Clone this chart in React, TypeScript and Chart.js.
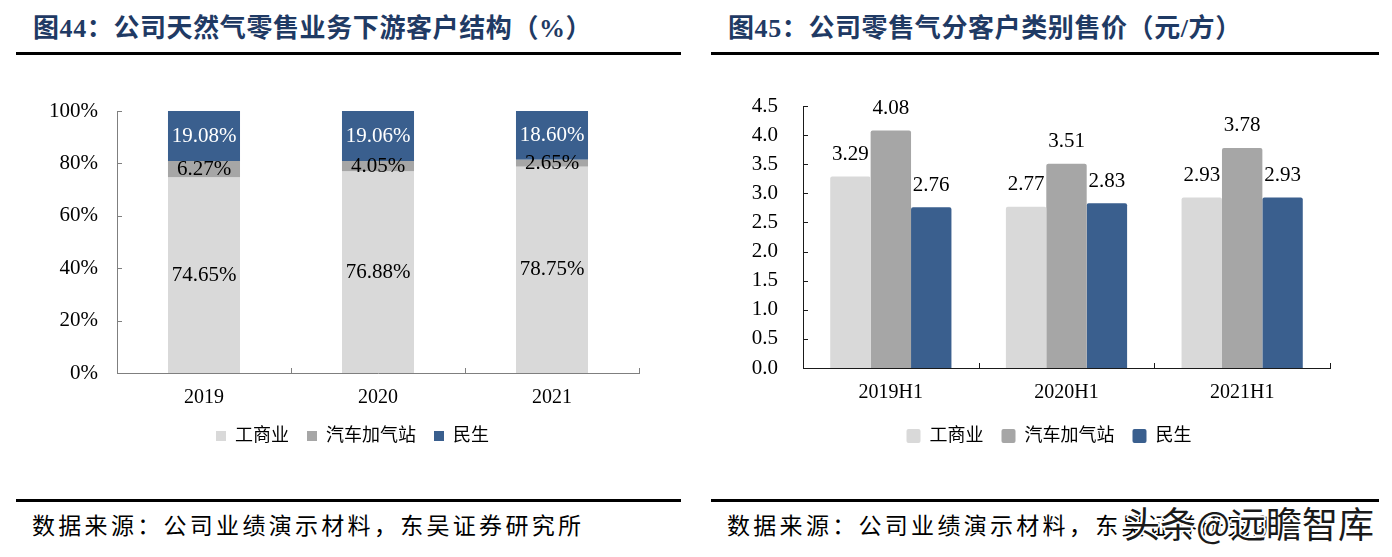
import React, { useEffect, useRef } from "react";
import { Chart, registerables } from "chart.js";

Chart.register(...registerables);

// ---------- data ----------
const yearCategories = ["2019", "2020", "2021"];
const commercialShare = [74.65, 76.88, 78.75];
const stationShare = [6.27, 4.05, 2.65];
const residentialShare = [19.08, 19.06, 18.6];

const halfCategories = ["2019H1", "2020H1", "2021H1"];
const commercialPrice = [3.29, 2.77, 2.93];
const stationPrice = [4.08, 3.51, 3.78];
const residentialPrice = [2.76, 2.83, 2.93];

const seriesNames = ["工商业", "汽车加气站", "民生"];
const titleLeft = "图44：公司天然气零售业务下游客户结构（%）";
const titleRight = "图45：公司零售气分客户类别售价（元/方）";
const sourceText = "数据来源：公司业绩演示材料，东吴证券研究所";

const C_LIGHT = "#d9d9d9";
const C_MID = "#a6a6a6";
const C_BLUE = "#3a5f8e";
const SERIF = '"Liberation Serif", "Noto Sans CJK SC", serif';
const CJK = '"Liberation Serif", "Noto Sans CJK SC", sans-serif';

// ---------- plugins ----------
const inwardTicks = {
  id: "inwardTicks",
  afterDraw(chart: any, _args: any, opts: any) {
    const ctx = chart.ctx;
    const x = chart.scales.x;
    const y = chart.scales.y;
    const area = chart.chartArea;
    ctx.save();
    ctx.strokeStyle = opts.color || "#000";
    ctx.lineWidth = 1;
    ctx.beginPath();
    y.ticks.forEach((_t: any, i: number) => {
      const py = Math.round(y.getPixelForTick(i)) + 0.5;
      ctx.moveTo(area.left, py);
      ctx.lineTo(area.left + 5, py);
    });
    const n = x.getLabels().length;
    for (let i = 1; i <= n; i++) {
      const px = Math.round(x.getPixelForValue(i - 0.5)) + 0.5;
      ctx.moveTo(px, area.bottom);
      ctx.lineTo(px, area.bottom - 5);
    }
    ctx.stroke();
    ctx.restore();
  },
};

const legendShift = {
  id: "legendShift",
  afterLayout(chart: any, _args: any, opts: any) {
    const l = chart.legend;
    if (!l || !opts.dx) return;
    l.left += opts.dx;
    l.right += opts.dx;
  },
};

const valueLabels = {
  id: "valueLabels",
  afterDatasetsDraw(chart: any, _args: any, opts: any) {
    const ctx = chart.ctx;
    ctx.save();
    ctx.font = `${opts.size || 21}px ${SERIF}`;
    ctx.textAlign = "center";
    ctx.textBaseline = "middle";
    chart.data.datasets.forEach((ds: any, di: number) => {
      const meta = chart.getDatasetMeta(di);
      meta.data.forEach((bar: any, i: number) => {
        const v = ds.data[i];
        ctx.fillStyle = opts.colors ? opts.colors[di] : "#000";
        if (opts.mode === "center") {
          ctx.fillText(v.toFixed(2) + "%", bar.x, (bar.y + bar.base) / 2);
        } else {
          ctx.fillText(v.toFixed(2), bar.x, bar.y - 22);
        }
      });
    });
    ctx.restore();
  },
};

// ---------- configs ----------
function leftConfig(): any {
  return {
    type: "bar",
    data: {
      labels: yearCategories,
      datasets: [
        { label: seriesNames[0], data: commercialShare, backgroundColor: C_LIGHT },
        { label: seriesNames[1], data: stationShare, backgroundColor: C_MID },
        { label: seriesNames[2], data: residentialShare, backgroundColor: C_BLUE },
      ],
    },
    plugins: [inwardTicks, valueLabels, legendShift],
    options: {
      animation: false,
      responsive: true,
      maintainAspectRatio: false,
      layout: { padding: { left: 0, right: 61, top: 31, bottom: 5 } },
      datasets: { bar: { categoryPercentage: 1, barPercentage: 0.414 } },
      scales: {
        x: {
          stacked: true,
          grid: { display: false },
          border: { display: true, color: "#7f7f7f", width: 1 },
          ticks: { color: "#000", font: { family: SERIF, size: 20 }, padding: 5 },
          afterFit: (s: any) => { s.height = 36; },
        },
        y: {
          stacked: true,
          min: 0,
          max: 100,
          grid: { display: false, drawTicks: true, tickLength: 19 },
          border: { display: true, color: "#7f7f7f", width: 1 },
          ticks: {
            stepSize: 20,
            autoSkip: false,
            color: "#000",
            font: { family: SERIF, size: 21 },
            padding: 0,
            callback: (v: any) => v + "%",
          },
          afterFit: (s: any) => { s.width = 117; },
        },
      },
      plugins: {
        tooltip: { enabled: false },
        inwardTicks: { color: "#7f7f7f" },
        legendShift: { dx: 33 },
        valueLabels: { mode: "center", colors: ["#000", "#000", "#fff"], size: 21 },
        legend: {
          position: "bottom",
          labels: {
            boxWidth: 10,
            boxHeight: 10,
            padding: 18,
            color: "#000",
            font: { family: CJK, size: 18 },
          },
        },
      },
    },
  };
}

function rightConfig(): any {
  return {
    type: "bar",
    data: {
      labels: halfCategories,
      datasets: [
        { label: seriesNames[0], data: commercialPrice, backgroundColor: C_LIGHT, borderRadius: 2, borderSkipped: "bottom" },
        { label: seriesNames[1], data: stationPrice, backgroundColor: C_MID, borderRadius: 2, borderSkipped: "bottom" },
        { label: seriesNames[2], data: residentialPrice, backgroundColor: C_BLUE, borderRadius: 2, borderSkipped: "bottom" },
      ],
    },
    plugins: [inwardTicks, valueLabels, legendShift],
    options: {
      animation: false,
      responsive: true,
      maintainAspectRatio: false,
      layout: { padding: { left: 0, right: 62, top: 26, bottom: 5 } },
      datasets: { bar: { categoryPercentage: 0.69, barPercentage: 1 } },
      scales: {
        x: {
          grid: { display: false },
          border: { display: true, color: "#1a1a1a", width: 1 },
          ticks: { color: "#000", font: { family: SERIF, size: 20 }, padding: 5 },
          afterFit: (s: any) => { s.height = 41; },
        },
        y: {
          min: 0,
          max: 4.5,
          grid: { display: false, drawTicks: true, tickLength: 25 },
          border: { display: true, color: "#1a1a1a", width: 1 },
          ticks: {
            stepSize: 0.5,
            autoSkip: false,
            color: "#000",
            font: { family: SERIF, size: 21 },
            padding: 0,
            callback: (v: any) => Number(v).toFixed(1),
          },
          afterFit: (s: any) => { s.width = 103; },
        },
      },
      plugins: {
        tooltip: { enabled: false },
        inwardTicks: { color: "#1a1a1a" },
        legendShift: { dx: 34 },
        valueLabels: { mode: "top", size: 21 },
        legend: {
          position: "bottom",
          labels: {
            boxWidth: 14,
            boxHeight: 14,
            useBorderRadius: true,
            borderRadius: 2,
            padding: 18,
            color: "#000",
            font: { family: CJK, size: 18 },
          },
        },
      },
    },
  };
}

function ChartBox({ make, style }: { make: () => any; style: React.CSSProperties }) {
  const ref = useRef<HTMLCanvasElement | null>(null);
  useEffect(() => {
    if (!ref.current) return;
    const c = new Chart(ref.current, make());
    return () => c.destroy();
  }, []);
  return (
    <div style={{ position: "absolute", ...style }}>
      <canvas ref={ref} />
    </div>
  );
}

const titleStyle: React.CSSProperties = {
  position: "absolute",
  top: 14,
  fontFamily: '"Liberation Serif", "Noto Sans CJK SC", serif',
  fontWeight: 700,
  fontSize: 26,
  lineHeight: "30px",
  letterSpacing: 0.6,
  color: "#1f3a64",
  whiteSpace: "nowrap",
};

const sourceStyle: React.CSSProperties = {
  position: "absolute",
  top: 510,
  fontFamily: '"Noto Sans CJK SC", sans-serif',
  fontSize: 23,
  lineHeight: "28px",
  letterSpacing: 3.3,
  color: "#000",
  whiteSpace: "nowrap",
};

const rule = (left: number, top: number, width: number): React.CSSProperties => ({
  position: "absolute",
  left,
  top,
  width,
  height: 3,
  background: "#000",
});

export default function App() {
  return (
    <div
      style={{
        position: "absolute",
        left: 0,
        top: 0,
        width: 1392,
        height: 557,
        background: "#fff",
        overflow: "hidden",
      }}
    >
      <div style={{ ...titleStyle, left: 33 }}>{titleLeft}</div>
      <div style={{ ...titleStyle, left: 728 }}>{titleRight}</div>
      <div style={rule(16, 52, 665)} />
      <div style={rule(711, 52, 668)} />

      <ChartBox make={leftConfig} style={{ left: 0, top: 80, width: 700, height: 380 }} />
      <ChartBox make={rightConfig} style={{ left: 700, top: 80, width: 692, height: 380 }} />

      <div style={rule(16, 499, 665)} />
      <div style={rule(711, 499, 668)} />
      <div style={{ ...sourceStyle, left: 32 }}>{sourceText}</div>
      <div style={{ ...sourceStyle, left: 727 }}>{sourceText}</div>
      <div
        style={{
          position: "absolute",
          left: 1124,
          top: 502,
          fontFamily: '"Noto Sans CJK SC", sans-serif',
          fontSize: 36,
          lineHeight: "40px",
          color: "#1a1a1a",
          whiteSpace: "nowrap",
          textShadow:
            "2px 0 0 #fff, -2px 0 0 #fff, 0 2px 0 #fff, 0 -2px 0 #fff, 1px 1px 0 #fff, -1px -1px 0 #fff, 1px -1px 0 #fff, -1px 1px 0 #fff",
        }}
      >
        头条@远瞻智库
      </div>
    </div>
  );
}
